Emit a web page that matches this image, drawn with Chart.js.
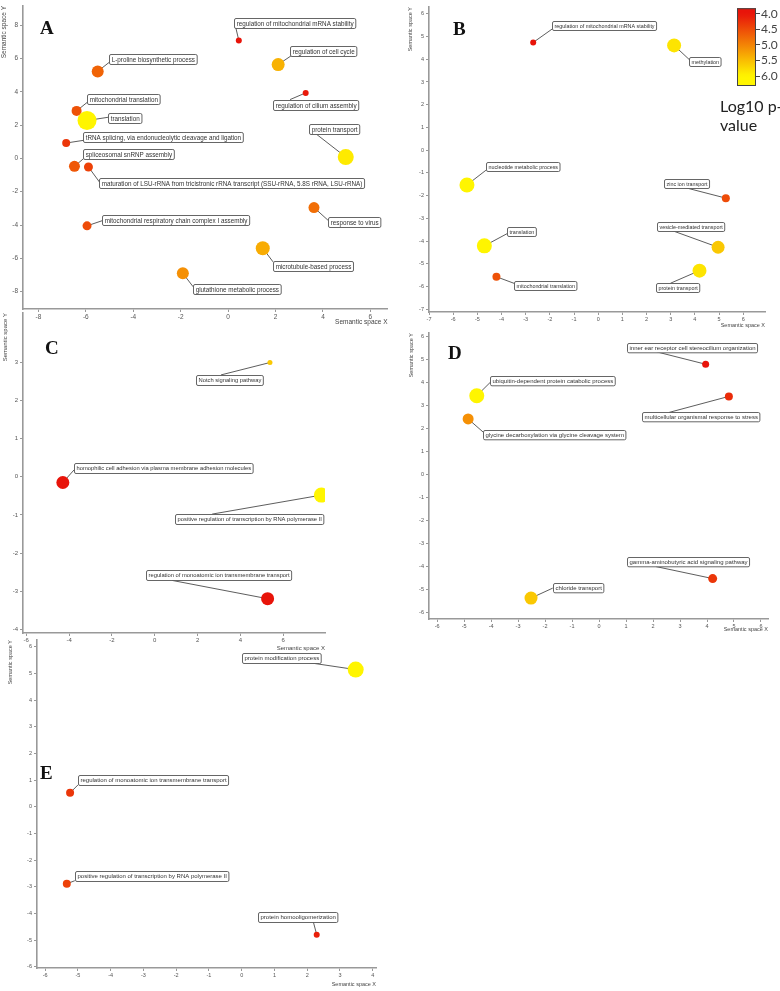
<!DOCTYPE html>
<html><head><meta charset="utf-8">
<script src="https://cdn.jsdelivr.net/npm/chart.js@4.4.0/dist/chart.umd.min.js"></script>
<style>
html,body{margin:0;padding:0;background:#fff;}
#wrap{position:relative;width:780px;height:991px;overflow:hidden;background:#fff;}
canvas{position:absolute;left:0;top:0;}
.letter{position:absolute;font-family:"Liberation Serif","DejaVu Serif",serif;font-weight:bold;font-size:19px;line-height:19px;color:#111;}
#cbt{position:absolute;left:720px;top:96px;font-family:Lato,"Open Sans",sans-serif;font-size:16px;line-height:19px;color:#222;white-space:nowrap;}
</style></head><body>
<div id="wrap">
<canvas id="cA" width="780" height="991"></canvas>
<canvas id="cB" width="780" height="991"></canvas>
<canvas id="cC" width="780" height="991"></canvas>
<canvas id="cD" width="780" height="991"></canvas>
<canvas id="cE" width="780" height="991"></canvas>
<canvas id="cCB" width="780" height="991"></canvas>
<div class="letter" style="left:40px;top:18px">A</div>
<div class="letter" style="left:453px;top:19px">B</div>
<div class="letter" style="left:45px;top:338px">C</div>
<div class="letter" style="left:448px;top:343px">D</div>
<div class="letter" style="left:40px;top:763px">E</div>
<div id="cbt">Log10 p-<br>value</div>
</div>
<script>
// ---------- DATA ----------
const A_terms = ["regulation of mitochondrial mRNA stability","regulation of cell cycle","regulation of cilium assembly","protein transport","L-proline biosynthetic process","mitochondrial translation","translation","tRNA splicing, via endonucleolytic cleavage and ligation","spliceosomal snRNP assembly","maturation of LSU-rRNA from tricistronic rRNA transcript (SSU-rRNA, 5.8S rRNA, LSU-rRNA)","mitochondrial respiratory chain complex I assembly","response to virus","microtubule-based process","glutathione metabolic process"];
const A_x = [0.45, 2.11, 3.27, 4.96, -5.50, -6.39, -5.95, -6.83, -6.48, -5.89, -5.95, 3.62, 1.46, -1.91];
const A_y = [7.08, 5.63, 3.93, 0.08, 5.22, 2.85, 2.27, 0.92, -0.48, -0.52, -4.05, -2.95, -5.39, -6.90];
const A_logp = [4.0, 5.4, 4.05, 5.9, 4.7, 4.55, 6.0, 4.3, 4.6, 4.4, 4.5, 4.8, 5.35, 5.1];
const A_size = [3, 6.5, 3, 8, 6, 5, 9.5, 4, 5.5, 4.5, 4.5, 5.5, 7, 6];
const A_xTicks = [-8,-6,-4,-2,0,2,4,6];
const A_yTicks = [-8,-6,-4,-2,0,2,4,6,8];

const B_terms = ["regulation of mitochondrial mRNA stability","methylation","nucleotide metabolic process","translation","mitochondrial translation","zinc ion transport","vesicle-mediated transport","protein transport"];
const B_x = [-2.69, 3.14, -5.43, -4.71, -4.21, 5.28, 4.96, 4.19];
const B_y = [4.74, 4.61, -1.53, -4.21, -5.57, -2.11, -4.27, -5.30];
const B_logp = [4.0, 5.85, 6.0, 6.0, 4.55, 4.5, 5.6, 5.85];
const B_size = [3, 7, 7.5, 7.5, 4, 4, 6.5, 7];
const B_xTicks = [-7,-6,-5,-4,-3,-2,-1,0,1,2,3,4,5,6];
const B_yTicks = [-7,-6,-5,-4,-3,-2,-1,0,1,2,3,4,5,6];

const C_terms = ["Notch signaling pathway","homophilic cell adhesion via plasma membrane adhesion molecules","positive regulation of transcription by RNA polymerase II","regulation of monoatomic ion transmembrane transport"];
const C_x = [5.38, -4.29, 7.78, 5.27];
const C_y = [3.00, -0.15, -0.48, -3.20];
const C_logp = [5.6, 4.0, 6.0, 4.0];
const C_size = [2.5, 6.5, 7.5, 6.5];
const C_xTicks = [-6,-4,-2,0,2,4,6];
const C_yTicks = [-4,-3,-2,-1,0,1,2,3];

const D_terms = ["inner ear receptor cell stereocilium organization","multicellular organismal response to stress","ubiquitin-dependent protein catabolic process","glycine decarboxylation via glycine cleavage system","gamma-aminobutyric acid signaling pathway","chloride transport"];
const D_x = [3.95, 4.81, -4.53, -4.85, 4.21, -2.52];
const D_y = [4.79, 3.39, 3.42, 2.41, -4.54, -5.39];
const D_logp = [4.0, 4.2, 6.0, 5.1, 4.3, 5.6];
const D_size = [3.5, 4, 7.5, 5.5, 4.5, 6.5];
const D_xTicks = [-6,-5,-4,-3,-2,-1,0,1,2,3,4,5,6];
const D_yTicks = [-6,-5,-4,-3,-2,-1,0,1,2,3,4,5,6];

const E_terms = ["protein modification process","regulation of monoatomic ion transmembrane transport","positive regulation of transcription by RNA polymerase II","protein homooligomerization"];
const E_x = [3.48, -5.24, -5.34, 2.29];
const E_y = [5.14, 0.52, -2.89, -4.80];
const E_logp = [6.0, 4.3, 4.4, 4.1];
const E_size = [8, 4, 4, 3];
const E_xTicks = [-6,-5,-4,-3,-2,-1,0,1,2,3,4];
const E_yTicks = [-6,-5,-4,-3,-2,-1,0,1,2,3,4,5,6];

const CB_ticks = [4.0, 4.5, 5.0, 5.5, 6.0];

// ---------- LAYOUT (label box offset from point in px, attach fraction) ----------
const A_lab = [[-4.7,-22.7,0.014,1],[12,-19,0.02,1],[-32.7,6.7,0.2,0],[-36.7,-32.7,0.15,1],[11.7,-17.7,0,0.85],[10.7,-17.3,0,0.87],[21.3,-8,0,0.47],[17.3,-10.7,0,0.8],[9,-17,0,0.93],[11,11.3,0,0.37],[15.3,-10.7,0,0.55],[14,9.7,0,0.3],[10.3,13,0,0.07],[10.3,10.7,0,0.27]];
const B_lab = [[19,-21,0,0.84],[15,11.3,0.03,0.4],[19,-23,0,0.92],[22.7,-18.4,0,0.69],[18,4,0,0.3],[-61.7,-19.6,0.46,1],[-61.3,-25.6,0.23,1],[-43.3,12.6,0.33,0]];
const C_lab = [[-73.7,12.4,0.37,0],[11.3,-19.4,0,0.67],[-146.3,19,0.25,0],[-121.6,-28.3,0.18,1]];
const D_lab = [[-79,-21.7,0.23,1],[-86.7,16,0.23,0],[13.6,-20,0,0.7],[15.3,11,0,0.26],[-86,-21.3,0.24,1],[21.7,-15,0,0.54]];
const E_lab = [[-114,-17,0.85,1],[8,-18,0,1],[8,-13,0,1],[-59,-23,0.7,1]];

function colorFor(v){
  let t = (v-4)/2; t = Math.max(0, Math.min(1, t));
  const r = Math.round(232 + 23*t), g = Math.round(20 + 225*t), b = Math.round(10*(1-t));
  return `rgb(${r},${g},${b})`;
}

const W = 780, H = 991;
const FONT = '"Liberation Sans", Arial, sans-serif';

function panel(id, P){
  const pts = P.x.map((x,i)=>({x:x, y:P.y[i]}));
  const labPlugin = {
    id: 'lab_'+id,
    beforeDatasetsDraw(chart){
      const ctx = chart.ctx, xs = chart.scales.x, ys = chart.scales.y;
      ctx.save();
      ctx.font = P.lf + 'px ' + FONT;
      ctx.strokeStyle = '#333'; ctx.lineWidth = 0.8;
      P.terms.forEach((t,i)=>{
        const px = xs.getPixelForValue(P.x[i]), py = ys.getPixelForValue(P.y[i]);
        const L = P.lab[i];
        const w = ctx.measureText(t).width + 2*P.pad, h = P.bh;
        const bx = px + L[0], by = py + L[1];
        ctx.beginPath(); ctx.moveTo(px, py); ctx.lineTo(bx + L[2]*w, by + L[3]*h); ctx.stroke();
      });
      ctx.restore();
    },
    afterDatasetsDraw(chart){
      const ctx = chart.ctx, xs = chart.scales.x, ys = chart.scales.y;
      ctx.save();
      ctx.font = P.lf + 'px ' + FONT;
      P.terms.forEach((t,i)=>{
        const px = xs.getPixelForValue(P.x[i]), py = ys.getPixelForValue(P.y[i]);
        const L = P.lab[i];
        const w = ctx.measureText(t).width + 2*P.pad, h = P.bh;
        const bx = Math.round(px + L[0]) + 0.5, by = Math.round(py + L[1]) + 0.5;
        ctx.beginPath();
        ctx.roundRect(bx, by, w, h, 1.5);
        ctx.fillStyle = '#fff'; ctx.fill();
        ctx.strokeStyle = '#555'; ctx.lineWidth = 0.9; ctx.stroke();
        ctx.fillStyle = '#333'; ctx.textBaseline = 'middle'; ctx.textAlign = 'left';
        ctx.fillText(t, bx + P.pad, by + h/2 + 0.3);
      });
      ctx.restore();
    }
  };
  const axisCommon = (ticks, fs) => ({
    type: 'linear',
    afterBuildTicks: s => { s.ticks = ticks.map(v=>({value:v})); },
    grid: { drawOnChartArea:false, drawTicks:true, tickLength:3, color:'#999', lineWidth:1 },
    border: { color:'#999', width:1.6 },
    ticks: { font:{size:fs, family:FONT}, color:'#555', autoSkip:false, maxRotation:0 },
    title: { display:true, align:'end', padding:0, font:{size:fs, family:FONT}, color:'#444' }
  });
  const xa = axisCommon(P.xTicks, P.tf);
  xa.min = P.xr[0]; xa.max = P.xr[1]; xa.position='bottom';
  xa.ticks.padding = 1;
  xa.title.text = 'Semantic space X';
  xa.afterFit = s => { s.height = P.xH; };
  const ya = axisCommon(P.yTicks, P.tf);
  ya.min = P.yr[0]; ya.max = P.yr[1]; ya.position='left';
  ya.ticks.padding = 2;
  ya.title.text = 'Semantic space Y';
  ya.afterFit = s => { s.width = P.yW; };
  new Chart(document.getElementById(id), {
    type: 'scatter',
    data: { datasets: [{ data: pts,
      pointRadius: c => P.size[c.dataIndex],
      pointHoverRadius: c => P.size[c.dataIndex],
      pointBackgroundColor: c => colorFor(P.logp[c.dataIndex]),
      pointBorderWidth: 0, pointBorderColor: 'rgba(0,0,0,0)' }] },
    options: {
      responsive:false, animation:false, events:[],
      layout: { autoPadding:false, padding: { left: P.area[0]-P.yW, top: P.area[1], right: W-P.area[2], bottom: H-P.area[3]-P.xH } },
      plugins: { legend:{display:false}, tooltip:{enabled:false} },
      scales: { x: xa, y: ya }
    },
    plugins: [labPlugin]
  });
}

panel('cA', {terms:A_terms, x:A_x, y:A_y, logp:A_logp, size:A_size, xTicks:A_xTicks, yTicks:A_yTicks, lab:A_lab,
  area:[23,5.5,387.5,309], xr:[-8.65,6.72], yr:[-9.04,9.15], xH:17, yW:23, tf:6.5, lf:6.3, bh:10, pad:2.2});
panel('cB', {terms:B_terms, x:B_x, y:B_y, logp:B_logp, size:B_size, xTicks:B_xTicks, yTicks:B_yTicks, lab:B_lab,
  area:[429,7,765,312], xr:[-7,6.9], yr:[-7.12,6.3], xH:17, yW:21.6, tf:5.5, lf:5.4, bh:9, pad:2});
panel('cC', {terms:C_terms, x:C_x, y:C_y, logp:C_logp, size:C_size, xTicks:C_xTicks, yTicks:C_yTicks, lab:C_lab,
  area:[23,313,325,633], xr:[-6.15,7.95], yr:[-4.1,4.3], xH:18.6, yW:21.6, tf:6, lf:5.8, bh:10, pad:2});
panel('cD', {terms:D_terms, x:D_x, y:D_y, logp:D_logp, size:D_size, xTicks:D_xTicks, yTicks:D_yTicks, lab:D_lab,
  area:[429,333,768,619], xr:[-6.3,6.26], yr:[-6.3,6.15], xH:14, yW:21.3, tf:5.5, lf:6.0, bh:9.3, pad:2});
panel('cE', {terms:E_terms, x:E_x, y:E_y, logp:E_logp, size:E_size, xTicks:E_xTicks, yTicks:E_yTicks, lab:E_lab,
  area:[37,640,376,968], xr:[-6.25,4.1], yr:[-6.05,6.25], xH:20, yW:30, tf:5.5, lf:6.0, bh:10, pad:2});

// ---------- colour bar ----------
const cbPlugin = {
  id:'cbgrad',
  beforeDatasetsDraw(chart){
    const {ctx, chartArea:a} = chart; const ys = chart.scales.y;
    const g = ctx.createLinearGradient(0, a.top, 0, a.bottom);
    for (let k=0;k<=20;k++){
      const v = ys.min + (ys.max-ys.min)*k/20;
      const p = (ys.getPixelForValue(v)-a.top)/(a.bottom-a.top);
      g.addColorStop(Math.max(0,Math.min(1,p)), colorFor(v));
    }
    ctx.save(); ctx.fillStyle = g; ctx.fillRect(a.left, a.top, a.right-a.left, a.bottom-a.top);
    ctx.strokeStyle = '#444'; ctx.lineWidth = 1; ctx.strokeRect(a.left+0.5, a.top+0.5, a.right-a.left-1, a.bottom-a.top-1);
    ctx.restore();
  }
};
new Chart(document.getElementById('cCB'), {
  type:'scatter', data:{datasets:[{data:[]}]},
  options:{ responsive:false, animation:false, events:[],
    layout:{autoPadding:false, padding:{left:737, top:1.7, right:0, bottom:H-86}},
    plugins:{legend:{display:false}, tooltip:{enabled:false}},
    scales:{
      x:{display:false, min:0, max:1},
      y:{position:'right', reverse:true, min:3.82, max:6.32,
        afterBuildTicks: s => { s.ticks = CB_ticks.map(v=>({value:v})); },
        afterFit: s => { s.width = 24; },
        grid:{drawOnChartArea:false, tickLength:4, color:'#444'}, border:{display:false},
        ticks:{padding:1, color:'#444', font:{size:12, family:'Lato, "Open Sans", sans-serif'}, callback:v=>Number(v).toFixed(1)}
      }
    }
  },
  plugins:[cbPlugin]
});
</script>
</body></html>
